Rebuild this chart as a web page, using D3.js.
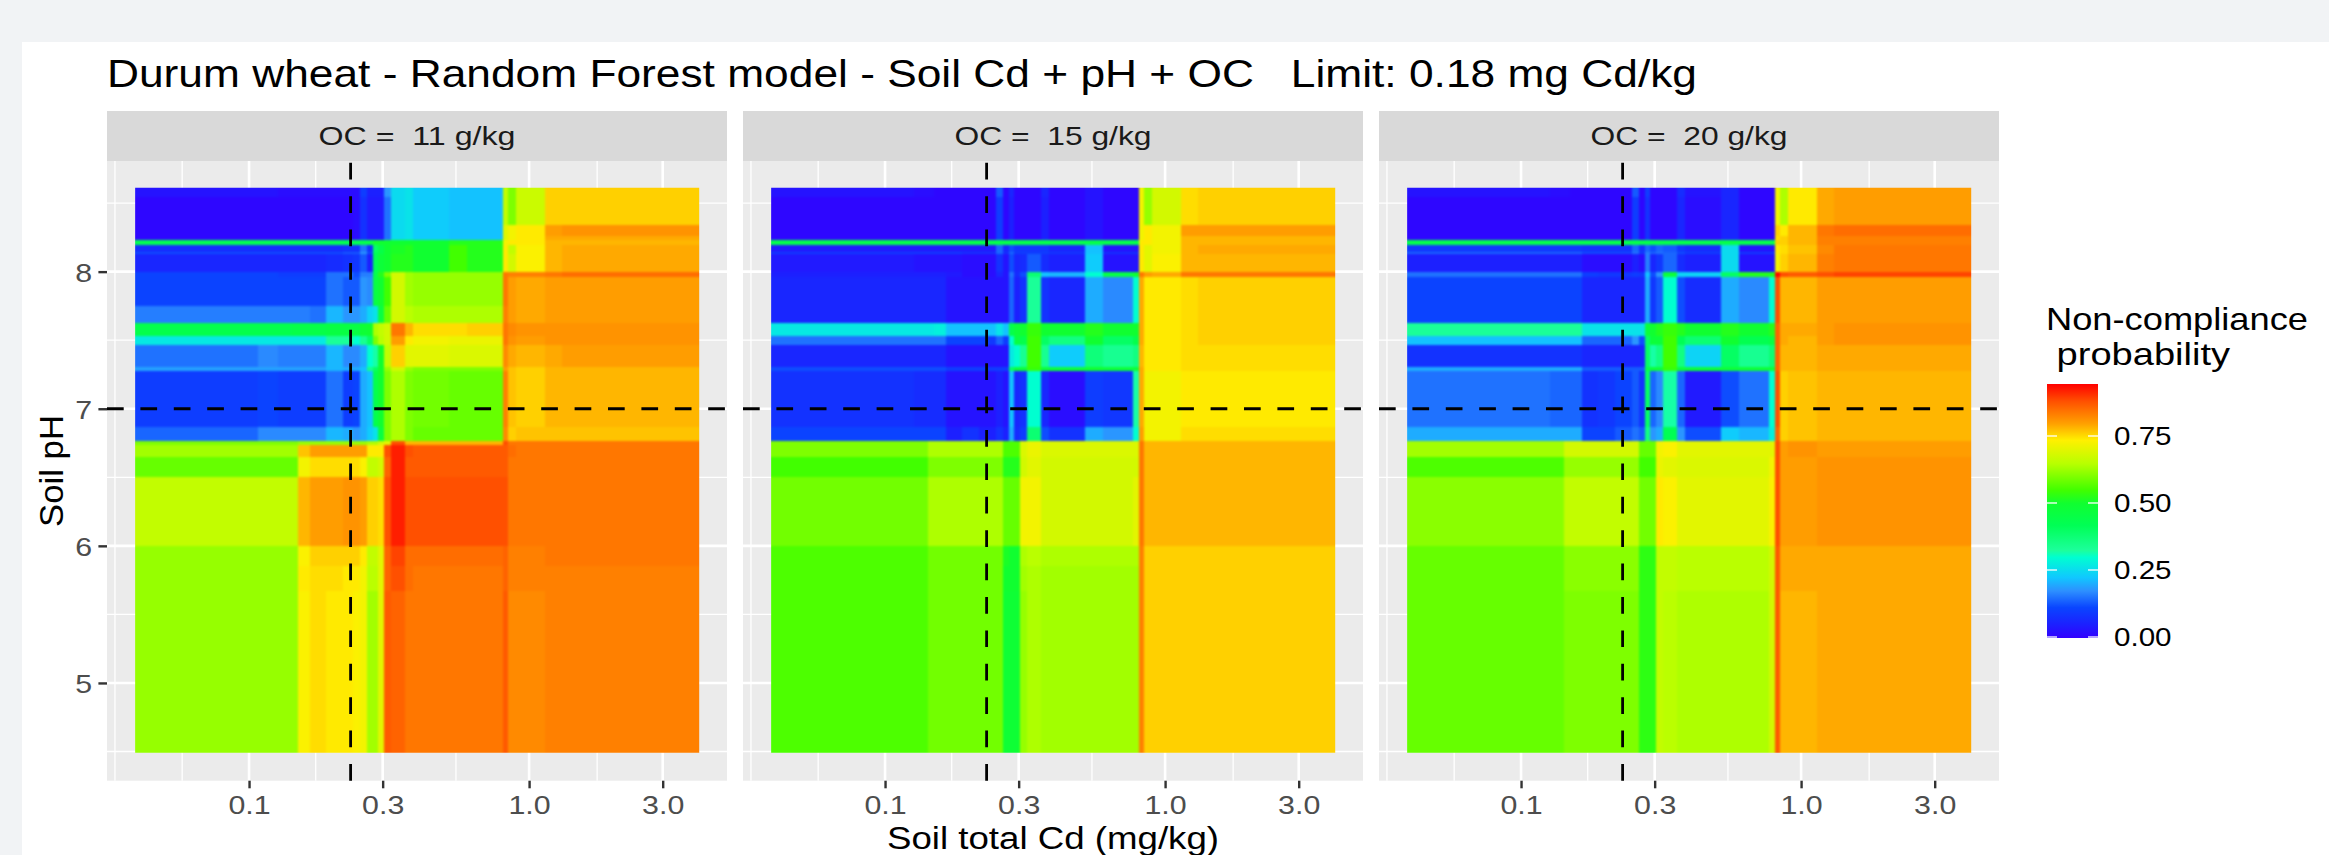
<!DOCTYPE html>
<html><head><meta charset="utf-8">
<script src="https://cdn.jsdelivr.net/npm/d3@7"></script>
<style>
html,body{margin:0;padding:0;background:#f1f3f5;overflow:hidden}
svg{display:block}
text{font-family:"Liberation Sans",Arial,sans-serif;white-space:pre}
</style></head><body><svg id="c" width="2329" height="855"></svg>
<script>
// ---------- data ----------
const titleText = "Durum wheat - Random Forest model - Soil Cd + pH + OC   Limit: 0.18 mg Cd/kg";
const panelLabels = ["OC =  11 g/kg","OC =  15 g/kg","OC =  20 g/kg"];
const xLabel = "Soil total Cd (mg/kg)", yLabel = "Soil pH";
const legendTitle = ["Non-compliance"," probability"];
const cdTicks = [0.1,0.3,1,3], cdTickLabels = ["0.1","0.3","1.0","3.0"];
const cdMinor = [0.0332,0.0577,0.173,0.548,1.75];
const phTicks = [5,6,7,8], phMinor = [4.5,5.5,6.5,7.5,8.5];
const legendTicks = [0,0.25,0.5,0.75], legendMax = 0.944;
const cdLimit = 0.2305, phLimit = 7;
const cdDomain = [0.0311,5.09], phDomain = [4.287,8.807];
// colour ramp (probability -> colour)
const rampValues = [0,0.05,0.113,0.175,0.225,0.30,0.325,0.418,0.50,0.549,0.648,0.735,0.797,0.88,0.944];
const rampColors = ["#3300ff","#1c20ff","#0a45ff","#2d90ff","#10c8ff","#00ffd0","#1cff9c","#00ff55","#10ff30","#40ff00","#b8ff00","#fff000","#ffa000","#ff5000","#ff0000"];
// cell edges of the probability grid
const cdEdges = [0.0392,0.1077,0.127,0.1426,0.1497,0.1653,0.1884,0.2167,0.235,0.249,0.2637,0.2773,0.289,0.3036,0.3215,0.3607,0.3855,0.5176,0.601,0.769,0.807,0.841,0.899,1.14,1.312,4.05];
const phEdges = [8.611,8.545,8.341,8.26,8.228,8.196,8.144,8.129,7.998,7.961,7.75,7.626,7.531,7.466,7.305,7.276,6.867,6.765,6.736,6.648,6.502,6.0,5.854,5.672,4.49];
// non-compliance probability (%), rows top to bottom, columns low to high Cd
const probOC11 = [
[3,3,2,2,2,2,2,2,2,10,5,5,5,18,25,26,23,22,22,22,66,60,67,76,76],
[1,1,1,1,1,1,1,1,2,8,4,4,4,15,25,26,23,22,22,22,66,60,67,76,76],
[1,1,1,1,1,1,1,1,2,8,4,4,4,15,25,26,23,22,22,22,70,72,74,80,81],
[1,1,1,1,1,1,1,1,2,8,4,4,4,15,25,26,23,22,22,22,70,72,74,79,79],
[43,43,43,43,43,43,43,43,43,44,45,50,50,50,50,50,50,52,52,52,72,74,74,78,78],
[7,7,7,7,7,7,7,8,8,15,8,40,45,50,51,52,50,55,52,52,74,66,73,78,79],
[12,12,12,12,12,12,12,13,13,18,12,42,45,50,51,52,50,55,52,52,74,66,73,78,79],
[6,6,6,6,6,6,7,8,9,13,5,42,48,50,52,52,50,55,52,52,74,68,73,78,79],
[11,11,10,10,10,10,15,15,12,16,16,44,52,60,68,63,62,62,62,62,84,83,83,84,85],
[11,11,11,11,11,11,15,13,13,18,17,46,50,55,68,63,62,62,62,62,84,80,79,80,80],
[16,16,16,16,16,15,21,18,18,20,24,26,46,58,68,65,64,64,64,64,83,80,79,80,80],
[44,44,44,45,45,45,46,46,46,49,50,64,66,68,84,78,75,75,76,76,84,82,81,81,81],
[27,27,27,27,27,27,33,33,30,34,40,60,65,68,80,74,72,71,71,71,84,81,80,81,81],
[15,17,16,16,16,16,21,17,17,20,30,32,50,66,76,70,70,69,69,69,82,79,78,79,80],
[19,19,19,19,19,19,21,20,20,22,35,40,50,62,68,62,60,60,60,60,80,77,76,78,78],
[10,11,10,10,10,10,15,10,11,20,22,44,50,60,64,60,59,58,58,58,83,77,76,78,78],
[14,17,17,17,17,17,21,20,18,20,23,26,46,60,64,60,58,58,58,58,82,76,77,77,77],
[60,60,60,60,62,62,62,62,62,62,64,64,68,70,88,78,78,78,78,78,88,84,84,84,84],
[63,63,63,63,77,80,80,80,80,80,74,74,74,88,92,88,87,87,87,87,87,85,84,84,84],
[58,58,58,58,72,75,75,75,75,73,66,66,68,86,92,87,87,87,87,87,87,84,84,84,84],
[66,66,66,66,78,80,80,81,81,80,76,76,75,88,92,88,88,88,88,88,88,84,84,84,84],
[62,62,62,62,73,76,76,76,76,74,66,66,70,86,89,85,85,85,85,85,86,83,83,84,84],
[62,62,62,62,74,75,75,74,74,72,65,65,70,86,88,85,84,84,84,84,86,83,83,83,83],
[62,62,62,62,73,75,74,74,73,72,63,63,70,87,86,84,84,84,84,84,87,82,82,83,83]];
const probOC15 = [
[3,3,2,2,1,1,1,1,1,13,1,6,1,1,1,6,1,3,1,1,72,62,68,75,76],
[1,1,1,1,1,1,1,1,1,10,1,5,1,1,1,5,1,3,1,1,72,62,68,75,76],
[1,1,1,1,1,1,1,1,1,10,1,5,1,1,1,5,1,3,1,1,72,74,72,80,80],
[1,1,1,1,1,1,1,1,1,10,1,5,1,1,1,5,1,3,1,1,72,74,72,78,78],
[44,44,44,44,44,44,44,44,44,44,44,44,44,44,44,44,44,44,44,44,74,74,72,78,78],
[4,4,4,4,4,4,4,4,4,14,6,12,9,9,9,9,6,22,3,3,74,70,72,78,79],
[10,10,10,10,10,10,8,8,8,14,8,14,10,10,10,10,9,22,8,8,74,70,72,78,79],
[4,4,3,3,3,3,2,2,2,8,3,12,6,7,13,7,5,23,3,3,74,70,73,78,78],
[5,5,5,5,5,4,2,2,2,6,3,15,7,12,38,22,21,30,45,50,84,80,79,84,84],
[6,6,6,6,6,3,3,3,3,3,3,14,5,8,33,8,6,20,17,30,79,74,74,75,76],
[6,6,6,6,6,3,3,3,3,3,3,14,5,8,33,8,6,20,17,30,79,74,74,75,76],
[27,27,27,27,28,22,22,22,22,26,22,44,48,50,54,50,50,52,50,50,79,74,74,75,76],
[15,15,15,15,15,11,11,11,9,14,10,30,46,44,55,40,36,50,40,44,79,74,74,75,76],
[6,6,6,6,6,3,3,3,3,3,3,27,30,34,55,34,23,37,34,36,78,74,74,75,75],
[12,12,12,12,12,10,10,10,10,10,10,40,48,48,54,48,48,50,48,48,79,74,74,75,75],
[8,8,7,7,7,3,3,3,3,5,3,22,6,8,30,6,2,10,9,32,79,72,72,74,74],
[11,11,11,11,11,5,8,5,5,8,5,20,7,10,38,12,8,20,18,30,80,72,72,75,75],
[60,60,60,64,64,64,64,64,64,64,56,56,56,69,71,69,69,69,69,69,84,78,78,78,78],
[60,60,60,64,64,64,64,64,64,64,56,56,56,69,71,69,69,69,69,69,84,78,78,78,78],
[55,55,55,60,60,60,60,60,60,60,52,52,52,68,70,68,68,68,68,68,84,78,78,78,78],
[59,59,59,64,64,64,64,64,64,64,58,58,58,72,72,68,68,68,68,70,84,78,78,78,78],
[56,56,56,59,59,59,59,59,59,59,51,50,50,64,65,64,64,64,64,64,83,76,76,76,76],
[56,56,56,59,59,59,59,59,59,59,50,50,50,63,64,63,63,63,63,63,83,76,76,76,76],
[56,56,56,59,59,59,59,59,59,59,49,49,49,62,64,63,63,63,63,63,83,76,76,76,76]];
const probOC20 = [
[3,3,2,2,1,1,1,1,1,13,1,10,1,1,1,7,3,6,1,1,72,64,74,79,80],
[1,1,1,1,1,1,1,1,1,10,1,8,1,1,1,6,2,6,1,1,72,64,74,79,80],
[1,1,1,1,1,1,1,1,1,10,1,8,1,1,1,6,2,6,1,1,76,74,78,84,85],
[1,1,1,1,1,1,1,1,1,10,1,8,1,1,1,6,2,6,1,1,75,76,78,83,83],
[44,44,44,44,44,44,44,44,44,44,44,44,44,44,44,44,44,44,44,44,76,76,78,83,83],
[9,9,9,9,9,8,8,8,8,14,8,14,12,14,13,9,7,25,3,3,74,75,77,82,84],
[14,14,14,14,14,12,12,12,12,15,10,16,14,15,14,12,10,25,10,10,74,75,77,82,84],
[5,5,5,5,5,2,2,2,2,5,2,16,6,9,14,7,5,25,3,3,72,76,78,83,84],
[15,15,15,15,15,10,9,9,9,10,9,22,12,18,48,24,24,40,52,52,94,88,87,88,89],
[11,11,11,11,11,6,6,6,6,6,6,20,9,13,30,12,7,20,17,30,88,78,78,80,80],
[11,11,11,11,11,6,6,6,6,6,6,20,9,13,30,12,7,20,17,30,88,78,78,80,80],
[33,33,33,33,33,26,26,26,26,26,26,48,50,52,54,52,50,52,50,52,86,79,79,80,81],
[22,22,22,22,22,14,14,14,14,18,12,40,48,48,55,42,38,50,43,46,86,79,78,80,81],
[8,8,8,8,8,6,6,6,6,6,6,40,32,36,55,36,24,40,34,38,86,78,78,79,79],
[20,20,20,20,20,13,13,13,13,13,13,45,48,48,54,48,48,48,48,48,86,78,78,79,79],
[15,15,14,14,14,8,9,11,11,13,8,40,14,17,32,14,4,12,15,30,88,76,77,78,78],
[20,20,20,20,20,11,11,13,13,15,13,36,18,20,42,18,12,23,21,28,86,76,77,78,78],
[63,63,63,68,68,68,68,68,68,68,58,58,58,72,73,70,70,70,70,70,88,80,81,80,80],
[63,63,63,68,68,68,68,68,68,68,58,58,58,72,73,70,70,70,70,70,88,80,81,80,80],
[56,56,56,62,62,62,62,62,62,62,55,55,55,71,70,69,69,69,69,72,88,80,80,81,81],
[61,61,61,66,66,66,66,66,66,66,59,59,59,74,73,70,70,70,70,73,88,80,80,81,81],
[58,58,58,61,61,61,61,61,61,61,53,53,53,66,66,65,65,65,65,68,87,79,79,79,79],
[58,58,58,61,61,61,61,61,61,61,53,53,53,66,66,65,65,65,65,68,87,79,79,79,79],
[58,58,58,60,60,60,60,60,60,60,53,53,53,66,65,64,64,64,64,68,87,78,78,79,79]];
const panelGrids = [probOC11,probOC15,probOC20];

// ---------- layout ----------
const panelW = 620, panelStep = 636, panelX0 = 107, panelTop = 161, panelBottom = 780.7, stripTop = 111;
const stretch = 1.19;
const svg = d3.select("#c");
const fit = (sel, w) => sel.attr("textLength", w).attr("lengthAdjust","spacingAndGlyphs");
const fitK = (sel, k) => sel.each(function(){ d3.select(this).attr("textLength", this.getComputedTextLength()*k).attr("lengthAdjust","spacingAndGlyphs"); });

svg.append("rect").attr("x",22).attr("y",42).attr("width",2329-22).attr("height",855-42).attr("fill","#fff");

const color = d3.scaleLinear().domain(rampValues).range(rampColors).interpolate(d3.interpolateRgb).clamp(true);
const x = d3.scaleLog().domain(cdDomain).range([0,panelW]);
const y = d3.scaleLinear().domain(phDomain).range([panelBottom-panelTop,0]);

const defs = svg.append("defs");
defs.append("filter").attr("id","soft").attr("x",-0.05).attr("y",-0.05).attr("width",1.1).attr("height",1.1)
  .attr("color-interpolation-filters","sRGB")
  .append("feGaussianBlur").attr("stdDeviation",0.95);
defs.append("clipPath").attr("id","rasterClip").append("rect")
  .attr("x",x(cdEdges[0])).attr("y",y(phEdges[0]))
  .attr("width",x(cdEdges[cdEdges.length-1])-x(cdEdges[0]))
  .attr("height",y(phEdges[phEdges.length-1])-y(phEdges[0]));

svg.append("text").attr("x",panelX0).attr("y",87).attr("font-size",38.5).attr("fill","#000").text(titleText).call(fit,1590);

panelGrids.forEach((grid,pi)=>{
  const g = svg.append("g").attr("transform",`translate(${panelX0+pi*panelStep},${panelTop})`);
  const h = panelBottom-panelTop;
  svg.append("rect").attr("x",panelX0+pi*panelStep).attr("y",stripTop).attr("width",panelW).attr("height",panelTop-stripTop).attr("fill","#d9d9d9");
  svg.append("text").attr("x",panelX0+pi*panelStep+panelW/2).attr("y",145).attr("text-anchor","middle")
     .attr("font-size",26).attr("fill","#1a1a1a").text(panelLabels[pi]).call(fit,197);
  g.append("rect").attr("width",panelW).attr("height",h).attr("fill","#ebebeb");
  // grid
  g.selectAll(".vm").data(cdMinor).join("line").attr("class","vm").attr("x1",x).attr("x2",x).attr("y1",0).attr("y2",h).attr("stroke","#fff").attr("stroke-width",1.3);
  g.selectAll(".hm").data(phMinor).join("line").attr("class","hm").attr("y1",y).attr("y2",y).attr("x1",0).attr("x2",panelW).attr("stroke","#fff").attr("stroke-width",1.3);
  g.selectAll(".vM").data(cdTicks).join("line").attr("class","vM").attr("x1",x).attr("x2",x).attr("y1",0).attr("y2",h).attr("stroke","#fff").attr("stroke-width",2.6);
  g.selectAll(".hM").data(phTicks).join("line").attr("class","hM").attr("y1",y).attr("y2",y).attr("x1",0).attr("x2",panelW).attr("stroke","#fff").attr("stroke-width",2.6);
  // raster
  const cells = [];
  grid.forEach((row,r)=>row.forEach((v,c)=>cells.push({r,c,v})));
  const pad = 6, nc = cdEdges.length-2, nr = phEdges.length-2;
  const rg = g.append("g").attr("clip-path","url(#rasterClip)").append("g").attr("filter","url(#soft)");
  rg.selectAll("rect").data(cells).join("rect")
    .attr("shape-rendering","crispEdges")
    .attr("x",d=>x(cdEdges[d.c])-(d.c===0?pad:0))
    .attr("y",d=>y(phEdges[d.r])-(d.r===0?pad:0))
    .attr("width",d=>x(cdEdges[d.c+1])-x(cdEdges[d.c])+(d.c===0||d.c===nc?pad:0))
    .attr("height",d=>y(phEdges[d.r+1])-y(phEdges[d.r])+(d.r===0||d.r===nr?pad:0))
    .attr("fill",d=>color(d.v/100));
  // limit lines (vline runs bottom -> top, hline left -> right)
  g.append("line").attr("x1",x(cdLimit)).attr("x2",x(cdLimit)).attr("y1",h).attr("y2",0)
    .attr("stroke","#000").attr("stroke-width",2.8).attr("stroke-dasharray","16.7 16.7");
  g.append("line").attr("x1",0).attr("x2",panelW).attr("y1",y(phLimit)).attr("y2",y(phLimit))
    .attr("stroke","#000").attr("stroke-width",2.8).attr("stroke-dasharray","16.7 16.7");
  // x axis
  const ax = svg.append("g").attr("transform",`translate(${panelX0+pi*panelStep},${panelBottom})`)
    .call(d3.axisBottom(x).tickValues(cdTicks).tickFormat((d,i)=>cdTickLabels[i]).tickSize(7.6).tickPadding(0));
  ax.select(".domain").remove();
  ax.selectAll("line").attr("stroke","#333").attr("stroke-width",2.4);
  ax.selectAll("text").attr("y",0).attr("dy",33.5).attr("font-size",25.5).attr("font-family",'"Liberation Sans"').attr("fill","#4d4d4d").call(fitK,stretch);
});

// y axis on the first panel
const ay = svg.append("g").attr("transform",`translate(${panelX0},${panelTop})`)
  .call(d3.axisLeft(y).tickValues(phTicks).tickSize(8.6).tickFormat(d3.format("d")));
ay.select(".domain").remove();
ay.selectAll("line").attr("stroke","#333").attr("stroke-width",2.4);
ay.selectAll("text").attr("x",-15).attr("dy",9.5).attr("font-size",25.5).attr("font-family",'"Liberation Sans"').attr("fill","#4d4d4d").call(fitK,stretch);

// axis titles
svg.append("text").attr("x",panelX0+panelStep+panelW/2).attr("y",849).attr("text-anchor","middle").attr("font-size",31).attr("fill","#000").text(xLabel).call(fit,332);
svg.append("text").attr("transform",`translate(63,471) rotate(-90)`).attr("text-anchor","middle").attr("font-size",34).attr("fill","#000").text(yLabel).call(fit,112);

// legend
const lg = {x:2047,w:51,top:384,bottom:637};
const ly = d3.scaleLinear().domain([0,legendMax]).range([lg.bottom,lg.top]);
const grad = defs.append("linearGradient").attr("id","legendRamp").attr("x1",0).attr("x2",0).attr("y1",1).attr("y2",0);
rampValues.forEach((v,i)=>grad.append("stop").attr("offset",v/legendMax).attr("stop-color",rampColors[i]));
svg.append("rect").attr("x",lg.x).attr("y",lg.top).attr("width",lg.w).attr("height",lg.bottom-lg.top+1).attr("fill","url(#legendRamp)");
const lt = svg.append("g").selectAll("g").data(legendTicks).join("g").attr("transform",d=>`translate(0,${ly(d)})`);
lt.append("line").attr("x1",lg.x).attr("x2",lg.x+10).attr("stroke","#fff").attr("stroke-width",1.3);
lt.append("line").attr("x1",lg.x+lg.w-10).attr("x2",lg.x+lg.w).attr("stroke","#fff").attr("stroke-width",1.3);
lt.append("text").attr("x",2114).attr("dy",9).attr("font-size",25.5).attr("fill","#000").text(d=>d3.format(".2f")(d)).call(fitK,1.16);
svg.append("text").attr("x",2046).attr("y",330).attr("font-size",31.5).attr("fill","#000").text(legendTitle[0]).call(fit,262);
svg.append("text").attr("x",2046).attr("y",365).attr("font-size",31.5).attr("fill","#000").text(legendTitle[1]).call(fit,184);
</script></body></html>
